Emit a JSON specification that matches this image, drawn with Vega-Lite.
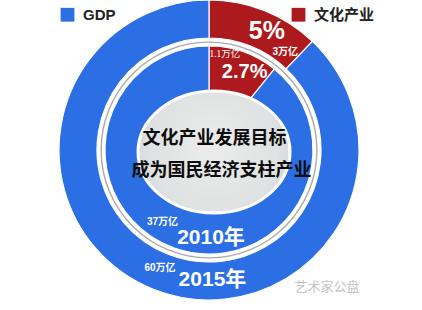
{
  "$schema": "https://vega.github.io/schema/vega-lite/v6.json",
  "autosize": {"type": "fit", "contains": "padding"},
  "width": 422,
  "height": 310,
  "padding": {"left": 0, "top": 0, "right": 4, "bottom": 10},
  "background": "white",
  "config": {"view": {"stroke": null}},
  "datasets": {
    "rings": [
      {"year": "2015年", "sector": "文化产业", "amount": "3万亿", "share": "5%", "sweep": 12.1},
      {"year": "2015年", "sector": "GDP", "amount": "60万亿", "share": "95%", "sweep": 87.9},
      {"year": "2010年", "sector": "文化产业", "amount": "1.1万亿", "share": "2.7%", "sweep": 10.8},
      {"year": "2010年", "sector": "GDP", "amount": "37万亿", "share": "97.3%", "sweep": 89.2}
    ],
    "notes": [
      {"role": "goal", "text": "文化产业发展目标"},
      {"role": "target", "text": "成为国民经济支柱产业"},
      {"role": "source", "text": "艺术家公盘"}
    ]
  },
  "layer": [
    {
      "data": {"name": "rings"},
      "transform": [{"filter": "datum.year === '2015年'"}],
      "mark": {"type": "arc", "outerRadius": 150, "innerRadius": 112, "stroke": "white", "strokeWidth": 1.2},
      "encoding": {
        "theta": {"field": "sweep", "type": "quantitative", "stack": true},
        "order": {"field": "sector", "sort": "descending"},
        "color": {
          "field": "sector",
          "type": "nominal",
          "scale": {"domain": ["GDP", "文化产业"], "range": ["#2c6ee3", "#ad1a1e"]},
          "legend": {
            "title": null,
            "orient": "none",
            "legendX": 60,
            "legendY": 7,
            "direction": "horizontal",
            "symbolType": "square",
            "symbolSize": 190,
            "symbolStrokeWidth": 0,
            "symbolOpacity": 1,
            "labelFont": "Liberation Sans, Noto Sans CJK SC",
            "labelFontSize": 15,
            "labelFontWeight": "bold",
            "labelColor": "#222222",
            "labelOffset": 8,
            "columnPadding": 175,
            "padding": 0
          }
        }
      }
    },
    {
      "data": {"values": [{"element": "separator"}]},
      "mark": {"type": "arc", "theta": 0, "theta2": 6.2832, "outerRadius": 108.6, "innerRadius": 107.2, "fill": "#a9a9a9"},
      "encoding": {}
    },
    {
      "data": {"name": "rings"},
      "transform": [{"filter": "datum.year === '2010年'"}],
      "mark": {"type": "arc", "outerRadius": 104, "innerRadius": 40, "stroke": "white", "strokeWidth": 1.2},
      "encoding": {
        "theta": {"field": "sweep", "type": "quantitative", "stack": true},
        "order": {"field": "sector", "sort": "descending"},
        "color": {"field": "sector", "type": "nominal"}
      }
    },
    {
      "data": {"values": [{"element": "center disk"}]},
      "mark": {
        "type": "point",
        "shape": "M -0.934 0.026 A 1 0.803 0 1 1 1.066 0.026 A 1 0.803 0 1 1 -0.934 0.026 Z",
        "size": 23104,
        "filled": true,
        "opacity": 1,
        "fill": {
          "gradient": "radial",
          "x1": 0.5, "y1": 0.45, "r1": 0,
          "x2": 0.5, "y2": 0.5, "r2": 0.6,
          "stops": [
            {"offset": 0, "color": "#ececec"},
            {"offset": 0.7, "color": "#dfe2e2"},
            {"offset": 1, "color": "#cdd3d6"}
          ]
        },
        "stroke": "white",
        "strokeWidth": 3
      },
      "encoding": {}
    },
    {
      "data": {"name": "notes"},
      "transform": [{"filter": "datum.role === 'goal'"}],
      "mark": {"type": "text", "font": "Noto Sans CJK SC", "fontWeight": "bold", "fontSize": 18, "color": "#0d0d0d", "align": "center", "baseline": "middle", "dx": 5.5, "dy": -11},
      "encoding": {"text": {"field": "text"}}
    },
    {
      "data": {"name": "notes"},
      "transform": [{"filter": "datum.role === 'target'"}],
      "mark": {"type": "text", "font": "Noto Sans CJK SC", "fontWeight": "bold", "fontSize": 18, "color": "#0d0d0d", "align": "center", "baseline": "middle", "dx": 12.5, "dy": 20.5},
      "encoding": {"text": {"field": "text"}}
    },
    {
      "data": {"name": "notes"},
      "transform": [{"filter": "datum.role === 'source'"}],
      "mark": {"type": "text", "font": "Noto Sans CJK SC", "fontSize": 13, "color": "#c4c4c4", "align": "center", "baseline": "middle", "theta": 2.431, "radius": 181},
      "encoding": {"text": {"field": "text"}}
    },
    {
      "data": {"name": "rings"},
      "transform": [{"filter": "datum.year === '2015年' && datum.sector === '文化产业'"}],
      "mark": {"type": "text", "font": "Liberation Sans, Noto Sans CJK SC", "fontWeight": "bold", "fontSize": 25, "color": "white", "align": "center", "baseline": "middle", "theta": 0.454, "radius": 132},
      "encoding": {"text": {"field": "share"}}
    },
    {
      "data": {"name": "rings"},
      "transform": [{"filter": "datum.year === '2015年' && datum.sector === '文化产业'"}],
      "mark": {"type": "text", "font": "Liberation Sans, Noto Sans CJK SC", "fontWeight": "bold", "fontSize": 10, "color": "white", "align": "center", "baseline": "middle", "theta": 0.663, "radius": 124},
      "encoding": {"text": {"field": "amount"}}
    },
    {
      "data": {"name": "rings"},
      "transform": [{"filter": "datum.year === '2010年' && datum.sector === '文化产业'"}],
      "mark": {"type": "text", "font": "Liberation Sans, Noto Sans CJK SC", "fontWeight": "bold", "fontSize": 20, "color": "white", "align": "center", "baseline": "middle", "theta": 0.43, "radius": 85.5},
      "encoding": {"text": {"field": "share"}}
    },
    {
      "data": {"name": "rings"},
      "transform": [{"filter": "datum.year === '2010年' && datum.sector === '文化产业'"}],
      "mark": {"type": "text", "font": "Liberation Serif, Noto Sans CJK SC", "fontSize": 9.5, "color": "white", "align": "center", "baseline": "middle", "theta": 0.163, "radius": 97.5},
      "encoding": {"text": {"field": "amount"}}
    },
    {
      "data": {"name": "rings"},
      "transform": [{"filter": "datum.year === '2010年' && datum.sector === 'GDP'"}],
      "mark": {"type": "text", "font": "Liberation Sans, Noto Sans CJK SC", "fontWeight": "bold", "fontSize": 10, "color": "white", "align": "center", "baseline": "middle", "theta": 3.712, "radius": 86},
      "encoding": {"text": {"field": "amount"}}
    },
    {
      "data": {"name": "rings"},
      "transform": [{"filter": "datum.year === '2010年' && datum.sector === 'GDP'"}],
      "mark": {"type": "text", "font": "Liberation Sans, Noto Sans CJK SC", "fontWeight": "bold", "fontSize": 21, "color": "white", "align": "center", "baseline": "middle", "theta": 3.119, "radius": 88.5},
      "encoding": {"text": {"field": "year"}}
    },
    {
      "data": {"name": "rings"},
      "transform": [{"filter": "datum.year === '2015年' && datum.sector === 'GDP'"}],
      "mark": {"type": "text", "font": "Liberation Sans, Noto Sans CJK SC", "fontWeight": "bold", "fontSize": 10, "color": "white", "align": "center", "baseline": "middle", "theta": 3.534, "radius": 128},
      "encoding": {"text": {"field": "amount"}}
    },
    {
      "data": {"name": "rings"},
      "transform": [{"filter": "datum.year === '2015年' && datum.sector === 'GDP'"}],
      "mark": {"type": "text", "font": "Liberation Sans, Noto Sans CJK SC", "fontWeight": "bold", "fontSize": 21, "color": "white", "align": "center", "baseline": "middle", "theta": 3.115, "radius": 130.5},
      "encoding": {"text": {"field": "year"}}
    }
  ]
}
